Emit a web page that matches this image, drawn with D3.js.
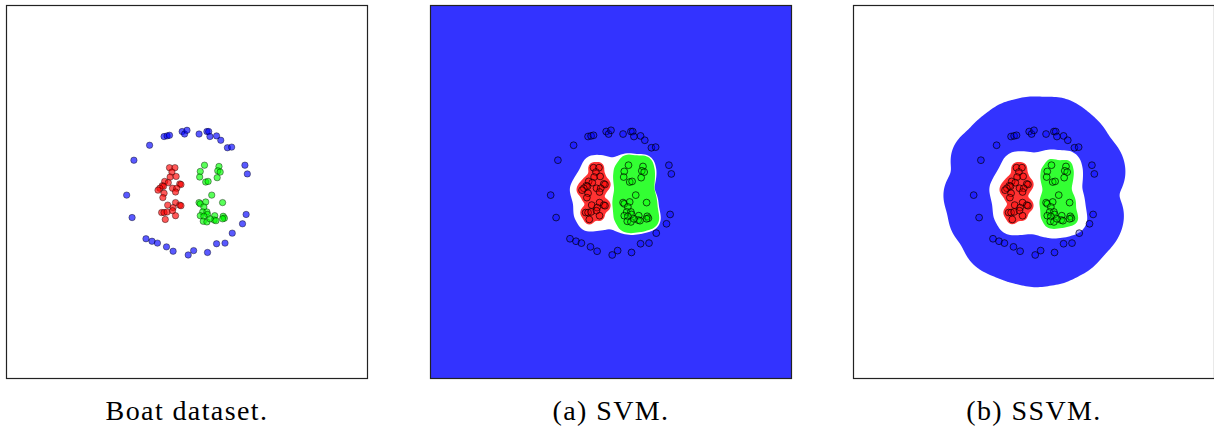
<!DOCTYPE html>
<html><head><meta charset="utf-8">
<script src="https://cdn.jsdelivr.net/npm/d3@7/dist/d3.min.js"></script>
<style>body{margin:0;background:#fff}svg{display:block}
.cap{font-family:"Liberation Serif","DejaVu Serif","Times New Roman",Tinos,"Noto Serif",serif;}</style>
</head><body>
<script>
// ---------- data (data coordinates, domain [-3,3] both axes) ----------
const blueX = [-0.38,-0.33,-0.29,-0.08,-0.04,0.00,0.20,0.33,0.36,0.38,0.49,0.56,0.67,0.74,-0.62,-0.88,0.96,1.00,-1.00,-0.91,0.98,0.92,0.75,-0.68,-0.58,-0.49,-0.34,-0.23,0.02,0.11,0.34,0.49,0.63];
const blueY = [0.89,0.90,0.91,0.97,0.93,0.99,0.93,0.97,0.97,0.89,0.90,0.83,0.71,0.72,0.75,0.51,0.43,0.29,-0.05,-0.41,-0.36,-0.51,-0.66,-0.75,-0.79,-0.82,-0.88,-0.95,-1.01,-0.94,-0.97,-0.83,-0.82];
const redX = [-0.29,-0.20,-0.25,-0.28,-0.18,-0.37,-0.31,-0.41,-0.39,-0.45,-0.48,-0.12,-0.10,-0.24,-0.17,-0.38,-0.19,-0.40,-0.19,-0.12,-0.10,-0.32,-0.23,-0.42,-0.38,-0.33,-0.24,-0.19,-0.36];
const redY = [0.39,0.39,0.32,0.24,0.25,0.17,0.15,0.10,0.09,0.06,0.03,0.13,0.12,0.06,0.06,-0.02,0.00,-0.09,-0.17,-0.21,-0.22,-0.21,-0.25,-0.33,-0.33,-0.32,-0.30,-0.38,-0.44];
const greenX = [0.29,0.22,0.53,0.51,0.55,0.21,0.50,0.31,0.35,0.41,0.59,0.20,0.22,0.31,0.28,0.26,0.33,0.34,0.22,0.28,0.46,0.45,0.48,0.60,0.62,0.59,0.27,0.33,0.38];
const greenY = [0.43,0.33,0.41,0.34,0.32,0.24,0.23,0.16,0.17,-0.05,-0.17,-0.17,-0.19,-0.16,-0.24,-0.32,-0.32,-0.36,-0.38,-0.39,-0.38,-0.45,-0.46,-0.39,-0.42,-0.43,-0.47,-0.48,-0.43];
const captions = ["Boat dataset.", "(a) SVM.", "(b) SSVM."];
// region margins (data units) used to derive decision regions from the points
const svmMargins = {white: 0.19, green: 0.17, red: 0.08};
const ssvmMargins = {blue: 0.5, white: 0.25, green: 0.1, red: 0.075};

const W = 1214, H = 428;
const panelLeft = [6, 430, 853], panelTop = 5, panelW = 362, panelH = 374;
const regionColor = {blue: "#3333ff", red: "#ff3333", green: "#33ff33"};
const pointColor = {blue: "#0000ff", red: "#ff0000", green: "#00ff00"};

const svg = d3.select("body").append("svg").attr("width", W).attr("height", H);

const pts = {
  blue: blueX.map((x,i)=>[x, blueY[i]]),
  red: redX.map((x,i)=>[x, redY[i]]),
  green: greenX.map((x,i)=>[x, greenY[i]])
};
const rg = pts.red.concat(pts.green);

// soft nearest-point distance field
function softField(list, tau) {
  return p => {
    let s = 0;
    for (const q of list) s += Math.exp(-Math.hypot(p[0]-q[0], p[1]-q[1]) / tau);
    return -tau * Math.log(s + 1e-300);
  };
}
// distance to convex hull of the points
function hullField(list) {
  const hull = d3.polygonHull(list);
  return p => {
    if (d3.polygonContains(hull, p)) return 0;
    let best = Infinity;
    for (let i = 0; i < hull.length; i++) {
      const a = hull[i], b = hull[(i + 1) % hull.length];
      const vx = b[0]-a[0], vy = b[1]-a[1];
      let t = ((p[0]-a[0])*vx + (p[1]-a[1])*vy) / (vx*vx + vy*vy);
      t = Math.max(0, Math.min(1, t));
      best = Math.min(best, Math.hypot(p[0]-a[0]-t*vx, p[1]-a[1]-t*vy));
    }
    return best;
  };
}
// blend of hull distance and nearest-point distance (blobby but mostly convex)
function blendField(list, tau, w) {
  const h = hullField(list), s = softField(list, tau);
  return p => (1 - w) * h(p) + w * Math.max(0, s(p));
}

const step = 2;
function regionPath(g, x, y, left, field, margin, color) {
  const nx = Math.ceil(panelW / step), ny = Math.ceil(panelH / step);
  const vals = new Float64Array(nx * ny);
  for (let j = 0; j < ny; j++) {
    const dy = y.invert(panelTop + (j + 0.5) * step);
    for (let i = 0; i < nx; i++) {
      const dx = x.invert(left + (i + 0.5) * step);
      vals[j * nx + i] = -field([dx, dy]);
    }
  }
  const c = d3.contours().size([nx, ny]).thresholds([-margin])(vals);
  const path = d3.geoPath(d3.geoIdentity().scale(step).translate([left, panelTop]));
  g.append("path").attr("d", path(c[0])).attr("fill", color).attr("stroke", "none");
}

panelLeft.forEach((left, k) => {
  const x = d3.scaleLinear().domain([-3, 3]).range([left, left + panelW]);
  const y = d3.scaleLinear().domain([-3, 3]).range([panelTop + panelH, panelTop]);
  const g = svg.append("g");
  const clipId = "clip" + k;
  svg.append("defs").append("clipPath").attr("id", clipId)
    .append("rect").attr("x", left).attr("y", panelTop).attr("width", panelW).attr("height", panelH);
  const inner = g.append("g").attr("clip-path", `url(#${clipId})`);

  if (k === 1) {
    inner.append("rect").attr("x", left).attr("y", panelTop).attr("width", panelW).attr("height", panelH).attr("fill", regionColor.blue);
    regionPath(inner, x, y, left, blendField(rg, 0.04, 0.5), svmMargins.white, "#ffffff");
    regionPath(inner, x, y, left, blendField(pts.green, 0.04, 0.3), svmMargins.green, regionColor.green);
    regionPath(inner, x, y, left, softField(pts.red, 0.03), svmMargins.red, regionColor.red);
  } else if (k === 2) {
    regionPath(inner, x, y, left, softField(pts.blue, 0.05), ssvmMargins.blue, regionColor.blue);
    regionPath(inner, x, y, left, blendField(rg, 0.04, 0.4), ssvmMargins.white, "#ffffff");
    regionPath(inner, x, y, left, blendField(pts.green, 0.04, 0.4), ssvmMargins.green, regionColor.green);
    regionPath(inner, x, y, left, softField(pts.red, 0.035), ssvmMargins.red, regionColor.red);
  }

  ["blue", "red", "green"].forEach(cls => {
    inner.selectAll(null).data(pts[cls]).join("circle")
      .attr("cx", d => x(d[0])).attr("cy", d => y(d[1]))
      .attr("r", k === 0 ? 3.2 : 3.4)
      .attr("fill", pointColor[cls])
      .attr("fill-opacity", k === 0 ? 0.65 : 0.35)
      .attr("stroke", "#000")
      .attr("stroke-opacity", k === 0 ? 0.45 : 0.75)
      .attr("stroke-width", 0.9);
  });

  g.append("rect").attr("x", left + 0.5).attr("y", panelTop + 0.5)
    .attr("width", panelW - 1).attr("height", panelH - 1)
    .attr("fill", "none").attr("stroke", "#222").attr("stroke-width", 1.2);

  svg.append("text").attr("class", "cap").attr("x", left + panelW / 2).attr("y", 420)
    .attr("text-anchor", "middle")
    .style("font-size", "28px")
    .attr("letter-spacing", 1.4)
    .attr("fill", "#000").text(captions[k]);
});
</script>
</body></html>
